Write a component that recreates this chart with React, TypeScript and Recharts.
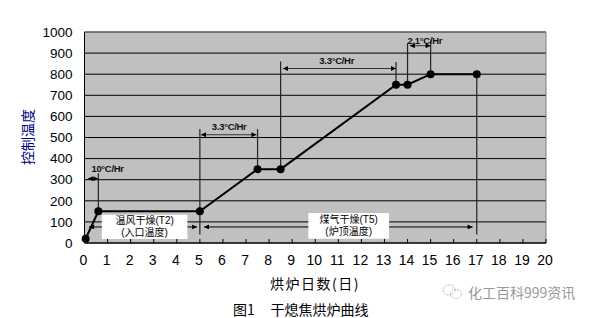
import { LineChart, Line, XAxis, YAxis, CartesianGrid, ReferenceLine, ReferenceArea, ReferenceDot } from "recharts";

const FONT = "'Liberation Sans', Arial, 'Noto Sans CJK SC', sans-serif";
const CJK = "'Noto Sans CJK SC', 'Liberation Sans', sans-serif";

// heating curve
const DAYS = [0.05, 0.6, 5, 7.5, 8.5, 13.5, 14, 15, 17];
const TEMPS = [20, 150, 150, 350, 350, 750, 750, 800, 800];

const X_TICKS = [0, 1, 2, 3, 4, 5, 6, 7, 8, 9, 10, 11, 12, 13, 14, 15, 16, 17, 18, 19, 20];
const Y_TICKS = [0, 100, 200, 300, 400, 500, 600, 700, 800, 900, 1000];

// heating-rate annotations (double arrows + labels)
const RATE_LABELS = ["10°C/Hr", "3.3°C/Hr", "3.3°C/Hr", "2.1°C/Hr"];
const RATE_FROM = [0.15, 5.05, 8.6, 14.1];
const RATE_TO = [0.6, 7.45, 13.5, 15.0];
const RATE_AT = [305, 513, 827, 935];
const RATE_LABEL_X = [1.0, 6.27, 10.93, 14.75];
const RATE_LABEL_Y = [352, 551, 865, 960];

// vertical guide lines
const DROP_X = [0.6, 5, 7.5, 8.5, 13.5, 14, 15, 17];
const DROP_LOW = [150, 40, 350, 350, 750, 750, 800, 40];
const DROP_HIGH = [330, 540, 540, 860, 858, 948, 960, 800];

// drying stages
const STAGE_LINE1 = ["温风干燥(T2)", "煤气干燥(T5)"];
const STAGE_LINE2 = ["(入口温度)", "(炉顶温度)"];
const STAGE_FROM = [0.75, 9.7];
const STAGE_TO = [4.46, 13.2];
const STAGE_LOW = [19, 20];
const STAGE_HIGH = [134, 142];
const STAGE_ARROW_FROM = [0.2, 5.18];
const STAGE_ARROW_TO = [4.88, 16.82];
const STAGE_ARROW_AT = 76;

const data = DAYS.map((d, i) => ({ day: d, temp: TEMPS[i] }));

const arrowShape = (start: boolean, end: boolean, color = "#000") => (p: any) => (
  <line x1={p.x1} y1={p.y1} x2={p.x2} y2={p.y2} stroke={color} strokeWidth={1}
    markerStart={start ? "url(#arrowHead)" : undefined} markerEnd={end ? "url(#arrowHead)" : undefined} />
);

const XTick = (p: any) => (
  <g>
    <line x1={p.x} x2={p.x} y1={p.y} y2={p.y - 4} stroke="#000" />
    <text x={p.x - 1} y={p.y + 17} textAnchor="middle" dominantBaseline="central" fontSize={14} fontFamily={FONT} fill="#000">{p.payload.value}</text>
  </g>
);

export default function App() {
  return (
    <div style={{ position: "absolute", left: 0, top: 0, width: 594, height: 318, background: "#fff" }}>
      <LineChart width={594} height={318} data={data} margin={{ top: 32, right: 48, bottom: 45, left: 0 }}>
        <CartesianGrid vertical={false} stroke="#000" fill="#C0C0C0" fillOpacity={1} />
        <XAxis dataKey="day" type="number" domain={[0, 20]} ticks={X_TICKS} interval={0} tickSize={0} tickMargin={0}
          tick={<XTick />} axisLine={{ stroke: "#000" }} height={30} />
        <YAxis type="number" domain={[0, 1000]} ticks={Y_TICKS} interval={0} width={84.5} tickSize={0} tickMargin={12}
          tick={{ fontSize: 13.5, fill: "#000", fontFamily: FONT }} axisLine={{ stroke: "#000" }} />
        <ReferenceLine y={1000} stroke="#808080" />
        <ReferenceLine x={20} stroke="#808080" />
        {DROP_X.map((x, i) => (
          <ReferenceLine key={"d" + i} segment={[{ x, y: DROP_LOW[i] }, { x, y: DROP_HIGH[i] }]} stroke="#222" strokeWidth={1.2} />
        ))}
        {RATE_FROM.map((x, i) => (
          <ReferenceLine key={"r" + i} segment={[{ x, y: RATE_AT[i] }, { x: RATE_TO[i], y: RATE_AT[i] }]} shape={arrowShape(true, true, "#333")} />
        ))}
        {STAGE_ARROW_FROM.map((x, i) => (
          <ReferenceLine key={"sa" + i} segment={[{ x, y: STAGE_ARROW_AT }, { x: STAGE_FROM[i], y: STAGE_ARROW_AT }]} shape={arrowShape(true, false)} />
        ))}
        {STAGE_ARROW_TO.map((x, i) => (
          <ReferenceLine key={"sb" + i} segment={[{ x: STAGE_TO[i], y: STAGE_ARROW_AT }, { x, y: STAGE_ARROW_AT }]} shape={arrowShape(false, true)} />
        ))}
        {STAGE_FROM.map((x, i) => (
          <ReferenceArea key={"s" + i} x1={x} x2={STAGE_TO[i]} y1={STAGE_LOW[i]} y2={STAGE_HIGH[i]} fill="#fff" fillOpacity={1} stroke="none" />
        ))}
        {STAGE_FROM.map((x, i) => (
          <ReferenceDot key={"st" + i} x={(x + STAGE_TO[i]) / 2} y={(STAGE_LOW[i] + STAGE_HIGH[i]) / 2} r={0}
            shape={(p: any) => (
              <g fontSize={10} fontFamily={FONT} fill="#000">
                <text x={p.cx} y={p.cy - 6} textAnchor="middle" dominantBaseline="central">{STAGE_LINE1[i]}</text>
                <text x={p.cx} y={p.cy + 6} textAnchor="middle" dominantBaseline="central">{STAGE_LINE2[i]}</text>
              </g>
            )} />
        ))}
        {RATE_LABELS.map((t, i) => (
          <ReferenceDot key={"rl" + i} x={RATE_LABEL_X[i]} y={RATE_LABEL_Y[i]} r={0}
            shape={(p: any) => (
              <text x={p.cx} y={p.cy} textAnchor="middle" dominantBaseline="central" fontSize={9.5} fontWeight="bold"
                letterSpacing={-0.3} fontFamily={FONT} fill="#111">{t}</text>
            )} />
        ))}
        <Line dataKey="temp" stroke="#000" strokeWidth={2} isAnimationActive={false} activeDot={false}
          dot={{ r: 4, fill: "#000", stroke: "#000", strokeWidth: 0 }} />
      </LineChart>
      <svg width={594} height={318} style={{ position: "absolute", left: 0, top: 0, pointerEvents: "none" }}>
        <defs>
          <marker id="arrowHead" viewBox="0 0 6 6" refX={6} refY={3} markerWidth={6} markerHeight={5}
            markerUnits="userSpaceOnUse" orient="auto-start-reverse">
            <path d="M0,0 L6,3 L0,6 z" fill="#000" />
          </marker>
        </defs>
        <text x={27} y={137} transform="rotate(-90 27 137)" textAnchor="middle" dominantBaseline="central"
          fontSize={14} fontFamily={CJK} fill="#000080">控制温度</text>
        <text x={315} y={283} textAnchor="middle" dominantBaseline="central" fontSize={14} letterSpacing={1.5}
          fontFamily={CJK} fill="#000">烘炉日数(日)</text>
        <text x={233} y={309} dominantBaseline="central" fontSize={14} fontFamily={CJK} fill="#000">图1</text>
        <text x={270.5} y={309} dominantBaseline="central" fontSize={14} fontFamily={CJK} fill="#000">干熄焦烘炉曲线</text>
        <ellipse cx={449} cy={290} rx={6} ry={5} fill="none" stroke="#bbb" strokeDasharray="2 1" />
        <ellipse cx={456} cy={294} rx={5.5} ry={4.5} fill="none" stroke="#bbb" strokeDasharray="2 1" />
        <text x={468} y={292} dominantBaseline="central" fontSize={14} fontFamily={CJK} fill="#999">化工百科999资讯</text>
      </svg>
    </div>
  );
}
